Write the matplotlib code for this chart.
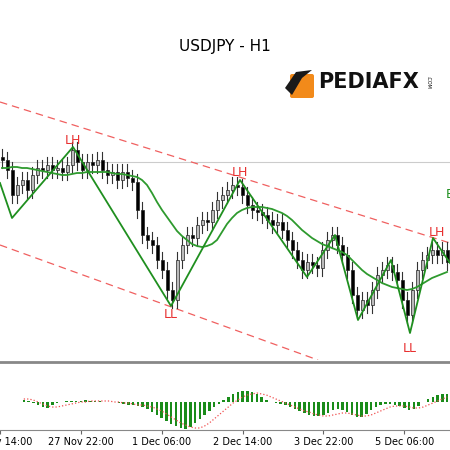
import matplotlib.pyplot as plt
from matplotlib.patches import FancyBboxPatch, Polygon, Rectangle

# price values are read in chart pixel units (y grows downward)
closes = [160, 170, 195, 185, 180, 190, 175, 168, 170, 165,
          170, 168, 172, 165, 150, 162, 170, 162, 165, 160,
          170, 175, 172, 180, 172, 178, 182, 210, 235, 240,
          245, 260, 270, 290, 300, 260, 245, 235, 238, 225,
          220, 222, 210, 200, 195, 190, 185, 187, 195, 205,
          210, 212, 215, 220, 225, 222, 230, 240, 250, 260,
          270, 262, 265, 268, 250, 240, 235, 245, 255, 270,
          295, 310, 300, 305, 290, 275, 270, 265, 272, 280,
          300, 315, 290, 270, 260, 255, 250, 255, 250, 262]
ma = [168, 168, 167, 167, 168, 168, 169, 170, 171, 172,
      173, 174, 175, 175, 174, 173, 173, 172, 172, 172,
      172, 172, 173, 174, 174, 175, 176, 177, 180, 185,
      193, 202, 210, 217, 224, 231, 236, 240, 244, 246,
      247, 246, 244, 240, 232, 224, 218, 213, 210, 208,
      207, 207, 207, 208, 209, 211, 213, 216, 220, 225,
      230, 234, 238, 241, 244, 246, 248, 250, 252, 255,
      260, 265, 270, 274, 277, 280, 283, 285, 287, 288,
      289, 290, 289, 287, 284, 281, 278, 276, 274, 272]
zz_x = [0, 12, 73, 171, 240, 307, 335, 358, 391, 410, 433, 450]
zz_y = [183, 218, 147, 306, 180, 277, 235, 320, 260, 333, 238, 263]
labels = [("LH", 73, 140), ("LL", 171, 315), ("LH", 240, 172),
          ("LL", 410, 348), ("LH", 437, 232)]
upper_ch = ([0, 450], [102, 243])
lower_ch = ([0, 318], [245, 360])

hist = [2, 1, -1, -3, -5, -6, -3, -1, 0, 1,
        1, 1, 1, 2, 1, 1, 1, 0, 0, 0,
        -1, -2, -3, -3, -4, -5, -7, -10, -13, -16,
        -19, -22, -24, -26, -27, -25, -21, -17, -13, -9,
        -5, -2, 2, 5, 8, 10, 11, 11, 10, 8,
        5, 2, 0, -1, -2, -3, -5, -7, -9, -11,
        -13, -14, -14, -13, -11, -8, -7, -8, -10, -13,
        -15, -15, -12, -8, -5, -3, -2, -2, -3, -4,
        -6, -8, -7, -4, 0, 3, 5, 7, 8, 8]
signal = [3, 3, 2, 0, -2, -4, -5, -5, -4, -3,
          -2, -1, 0, 0, 1, 1, 1, 1, 1, 0,
          0, -1, -1, -2, -3, -3, -4, -5, -7, -9,
          -12, -15, -18, -21, -23, -25, -26, -26, -24, -21,
          -17, -13, -9, -5, -1, 2, 5, 7, 8, 9,
          8, 7, 5, 3, 1, -1, -3, -5, -7, -9,
          -10, -12, -13, -14, -14, -13, -12, -11, -11, -12,
          -13, -14, -14, -13, -11, -9, -7, -5, -4, -4,
          -4, -5, -6, -6, -5, -3, -1, 1, 3, 5]
tick_x = [-23, 62, 147, 232, 317, 402]
tick_labels = ["26 Nov 14:00", "27 Nov 22:00", "1 Dec 06:00",
               "2 Dec 14:00", "3 Dec 22:00", "5 Dec 06:00"]

xs = [2 + 5 * i for i in range(len(closes))]

fig = plt.figure(figsize=(4.5, 4.5), dpi=100)
ax = fig.add_axes([0, 0.2, 1, 0.8])
ax.set_xlim(0, 450)
ax.set_ylim(360, 0)
ax.axis('off')

ax.axhline(162, color='#cccccc', lw=0.8)
ax.plot(*upper_ch, color='#f06060', lw=0.9, dashes=(6, 4))
ax.plot(*lower_ch, color='#f06060', lw=0.9, dashes=(6, 4))

prev = closes[0] - 3
for x, c in zip(xs, closes):
    o = prev
    hi, lo = min(o, c) - 8, max(o, c) + 8
    ax.plot([x, x], [hi, lo], color='#333333', lw=0.8, zorder=2)
    down = c > o
    ax.add_patch(Rectangle((x - 1.5, min(o, c)), 3, max(abs(c - o), 2),
                           facecolor='black' if down else '#bbbbbb',
                           edgecolor='#222222', lw=0.5, zorder=3))
    prev = c

ax.plot(xs, ma, color='#2e9a2e', lw=1.3, zorder=4)
ax.plot(zz_x, zz_y, color='#1f8f1f', lw=1.3, zorder=5)
for t, x, y in labels:
    ax.text(x, y, t, color='#e83030', fontsize=9, ha='center', va='center')
ax.text(446, 195, "B", color='#1f8f1f', fontsize=9, va='center')

ax.text(225, 47, "USDJPY - H1", fontsize=11, ha='center', va='center')
# logo
ax.add_patch(FancyBboxPatch((292, 76), 20, 20, boxstyle="round,pad=2",
                            facecolor='#f28a1a', edgecolor='none'))
ax.add_patch(Polygon([[285, 88], [296, 72], [312, 70], [302, 78], [292, 95]],
                     closed=True, facecolor='#1a1a1a', edgecolor='none'))
ax.text(318, 82, "PEDIAFX", fontsize=15, fontweight='bold', va='center',
        color='#111111')
ax.text(428, 82, ".COM", fontsize=3.5, rotation=-90, va='center', ha='center')

sub = fig.add_axes([0, 20 / 450, 1, 68 / 450])
sub.set_xlim(0, 450)
sub.set_ylim(-28, 40)
sub.bar(xs, hist, width=2.6, color='#1a8c1a', edgecolor='none')
sub.plot(xs, signal, color='#f05050', lw=0.9, ls=':')
for s in ['left', 'right']:
    sub.spines[s].set_visible(False)
sub.spines['top'].set_color('#888888')
sub.spines['top'].set_linewidth(2)
sub.spines['bottom'].set_color('#888888')
sub.set_yticks([])
sub.set_xticks(tick_x)
sub.set_xticklabels(tick_labels, fontsize=7)
sub.tick_params(axis='x', length=3, color='#666666', pad=2)

fig.savefig("out.png", dpi=100)
